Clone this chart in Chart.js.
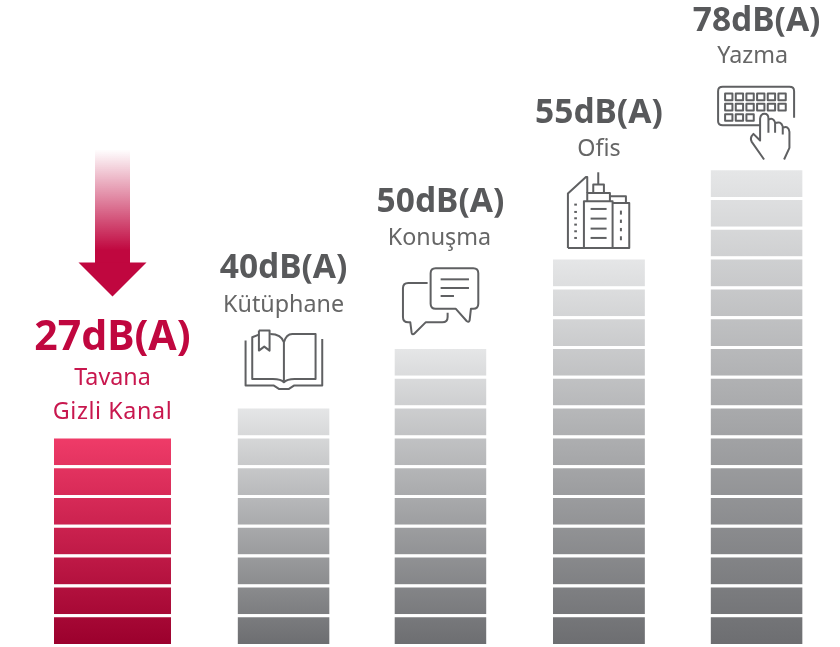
<!DOCTYPE html>
<html lang="tr">
<head>
    <meta charset="UTF-8">
    <title>Ses seviyeleri</title>
    <style>
        body { margin: 0; background: #fff; }
        #wrap { width: 840px; height: 647px; }
    </style>
    <script src="https://cdn.jsdelivr.net/npm/chart.js@4/dist/chart.umd.js"></script>
</head>
<body>
    <div id="wrap"><canvas id="chart" width="840" height="647"></canvas></div>
    <script>
        // values
        const categories = ['Tavana\nGizli Kanal', 'Kütüphane', 'Konuşma', 'Ofis', 'Yazma'];
        const decibels = ['27dB(A)', '40dB(A)', '50dB(A)', '55dB(A)', '78dB(A)'];
        const segmentCounts = [7, 8, 10, 13, 16];
        // bars are not evenly spaced in the picture
        const slots = [0, 1.085, 2.08, 3.085, 4.085];

        const RED = '#c0073f';
        const GREY = '#58595b';

        function barGradient(context, top, bottom) {
            const chart = context.chart;
            if (!chart.chartArea) return top;
            const bar = context.dataset.barIndex[context.dataIndex];
            const y = chart.scales.y;
            const g = chart.ctx.createLinearGradient(0, y.getPixelForValue(segmentCounts[bar]), 0, y.getPixelForValue(0));
            g.addColorStop(0, top);
            g.addColorStop(1, bottom);
            return g;
        }

        // one dataset per row of the stack, the red bar is wider so it gets its own rows
        function rowDataset(row, bars, thickness, top, bottom) {
            const used = bars.filter(b => row < segmentCounts[b]);
            if (!used.length) return null;
            return {
                data: used.map(b => ({ x: slots[b], y: 1 })),
                barIndex: used,
                barThickness: thickness,
                borderWidth: { top: 3, left: 0, right: 0, bottom: 0 },
                borderColor: '#fff',
                borderSkipped: false,
                inflateAmount: 0,
                backgroundColor: c => barGradient(c, top, bottom)
            };
        }

        const datasets = [];
        for (let row = 0; row < 16; row++) {
            const red = rowDataset(row, [0], 117, '#f03c69', '#9b002d');
            const grey = rowDataset(row, [1, 2, 3, 4], 92, '#e6e7e8', '#6d6e71');
            if (red) datasets.push(red);
            if (grey) datasets.push(grey);
        }

        // icons, drawn in 3x units with the origin offset from the bar centre and top
        function line(ctx, pts) {
            ctx.beginPath();
            pts.forEach((p, i) => i ? ctx.lineTo(p[0], p[1]) : ctx.moveTo(p[0], p[1]));
            ctx.stroke();
        }

        const icons = {
            1: { dx: -44, dy: -78, draw(ctx) {
                ctx.beginPath();
                ctx.moveTo(18, 30); ctx.lineTo(18, 165); ctx.lineTo(103, 165);
                ctx.lineTo(118, 175); ctx.lineTo(148, 175); ctx.lineTo(163, 165);
                ctx.lineTo(248, 165); ctx.lineTo(248, 25);
                ctx.stroke();
                ctx.beginPath();
                ctx.moveTo(58, 12); ctx.lineTo(38, 20); ctx.lineTo(38, 145); ctx.lineTo(100, 145);
                ctx.quadraticCurveTo(125, 145, 133, 155); ctx.lineTo(133, 35);
                ctx.quadraticCurveTo(125, 10, 92, 10);
                ctx.stroke();
                ctx.beginPath();
                ctx.moveTo(133, 155); ctx.quadraticCurveTo(142, 145, 165, 145); ctx.lineTo(228, 145);
                ctx.lineTo(228, 10); ctx.lineTo(158, 10); ctx.quadraticCurveTo(140, 10, 133, 35);
                ctx.stroke();
                line(ctx, [[58, 0], [58, 60], [74, 48], [90, 60], [90, 0], [58, 0]]);
            } },
            2: { dx: -45.5, dy: -88, draw(ctx) {
                ctx.beginPath();
                ctx.moveTo(122, 22); ctx.lineTo(235, 22); ctx.quadraticCurveTo(250, 22, 250, 37);
                ctx.lineTo(250, 128); ctx.quadraticCurveTo(250, 143, 235, 143); ctx.lineTo(228, 143);
                ctx.lineTo(224, 178); ctx.quadraticCurveTo(222, 186, 215, 180); ctx.lineTo(182, 143);
                ctx.lineTo(122, 143); ctx.quadraticCurveTo(107, 143, 107, 128); ctx.lineTo(107, 37);
                ctx.quadraticCurveTo(107, 22, 122, 22);
                ctx.stroke();
                line(ctx, [[137, 55], [222, 55]]);
                line(ctx, [[137, 81], [222, 81]]);
                line(ctx, [[137, 105], [177, 105]]);
                ctx.beginPath();
                ctx.moveTo(98, 66); ctx.lineTo(40, 66); ctx.quadraticCurveTo(24, 66, 24, 82);
                ctx.lineTo(24, 168); ctx.quadraticCurveTo(24, 184, 40, 184); ctx.lineTo(46, 184);
                ctx.lineTo(50, 215); ctx.quadraticCurveTo(52, 224, 60, 216); ctx.lineTo(92, 184);
                ctx.lineTo(142, 184); ctx.quadraticCurveTo(158, 184, 158, 168); ctx.lineTo(158, 155);
                ctx.stroke();
            } },
            3: { dx: -39, dy: -90, draw(ctx) {
                line(ctx, [[24, 235], [208, 235], [208, 100], [158, 100]]);
                line(ctx, [[24, 235], [24, 72], [78, 22], [82, 22], [82, 70]]);
                line(ctx, [[72, 235], [72, 95], [158, 95], [158, 235]]);
                line(ctx, [[82, 95], [82, 70], [150, 70], [150, 95]]);
                line(ctx, [[150, 80], [198, 80], [198, 100]]);
                line(ctx, [[100, 70], [100, 45], [132, 45], [132, 70]]);
                line(ctx, [[115, 45], [115, 8]]);
                [118, 147, 177, 205].forEach(y => line(ctx, [[92, y], [140, y]]));
                [105, 127, 146, 165, 185, 205].forEach(y => line(ctx, [[43, y], [51, y]]));
                [[123, 135], [150, 160], [175, 185], [200, 212]].forEach(s => line(ctx, [[183, s[0]], [183, s[1]]]));
            } },
            4: { dx: -46.5, dy: -89, draw(ctx) {
                ctx.beginPath();
                ctx.moveTo(252, 110); ctx.lineTo(252, 30); ctx.quadraticCurveTo(252, 17, 238, 17);
                ctx.lineTo(38, 17); ctx.quadraticCurveTo(24, 17, 24, 30); ctx.lineTo(24, 120);
                ctx.quadraticCurveTo(24, 132, 38, 132); ctx.lineTo(150, 132);
                ctx.stroke();
                for (let r = 0; r < 3; r++) {
                    for (let k = 0; k < (r === 2 ? 3 : 6); k++) {
                        ctx.strokeRect(45 + k * 32, 37 + r * 31, 22, 20);
                    }
                }
                ctx.beginPath();
                ctx.moveTo(162, 235); ctx.lineTo(125, 182); ctx.quadraticCurveTo(118, 170, 130, 158);
                ctx.lineTo(150, 178); ctx.lineTo(150, 112); ctx.quadraticCurveTo(152, 98, 163, 98);
                ctx.quadraticCurveTo(175, 98, 175, 112); ctx.lineTo(175, 155);
                ctx.stroke();
                ctx.beginPath();
                ctx.moveTo(175, 115); ctx.quadraticCurveTo(190, 108, 195, 124); ctx.lineTo(195, 155);
                ctx.moveTo(195, 126); ctx.quadraticCurveTo(212, 118, 218, 136); ctx.lineTo(218, 160);
                ctx.moveTo(218, 140); ctx.quadraticCurveTo(236, 132, 238, 152); ctx.lineTo(238, 200);
                ctx.lineTo(222, 235);
                ctx.stroke();
            } }
        };

        // y offsets above the bar top for each text line
        const headOffset = [88.5, 130.5, 137.5, 136.5, 139.5];
        const subOffset = [[53.5, 19.5], [96.5], [104.5], [103.5], [107.5]];
        const subShift = [0, 0, -1, 0, -4];

        const overlay = {
            id: 'overlay',
            afterDatasetsDraw(chart) {
                const ctx = chart.ctx;
                const xs = chart.scales.x;
                const ys = chart.scales.y;
                ctx.save();
                ctx.textAlign = 'center';
                ctx.textBaseline = 'alphabetic';
                categories.forEach((name, i) => {
                    const cx = xs.getPixelForValue(slots[i]);
                    const top = ys.getPixelForValue(segmentCounts[i]) + 3;
                    ctx.fillStyle = i === 0 ? RED : GREY;
                    ctx.font = 'bold ' + (i === 0 ? 41 : 33.5) + 'px "Noto Sans"';
                    ctx.fillText(decibels[i], cx, top - headOffset[i]);
                    ctx.fillStyle = i === 0 ? '#c8174e' : '#666';
                    ctx.font = '23.3px "Noto Sans"';
                    name.split('\n').forEach((t, k) => {
                        ctx.letterSpacing = t === 'Gizli Kanal' ? '0.6px' : '0px';
                        ctx.fillText(t, cx + subShift[i], top - subOffset[i][k]);
                    });
                    ctx.letterSpacing = '0px';

                    const icon = icons[i];
                    if (icon) {
                        ctx.save();
                        ctx.translate(cx + icon.dx, top + icon.dy);
                        ctx.scale(1 / 3, 1 / 3);
                        ctx.strokeStyle = '#5f6062';
                        ctx.lineWidth = 6;
                        ctx.lineJoin = 'round';
                        icon.draw(ctx);
                        ctx.restore();
                    }
                });

                // fading arrow above the red bar
                const ax = xs.getPixelForValue(slots[0]);
                const at = ys.getPixelForValue(segmentCounts[0]) + 3;
                const g = ctx.createLinearGradient(0, at - 289, 0, at - 188);
                g.addColorStop(0, 'rgba(192,7,63,0)');
                g.addColorStop(1, RED);
                ctx.fillStyle = g;
                ctx.fillRect(ax - 17.5, at - 289, 35, 115);
                ctx.fillStyle = RED;
                ctx.beginPath();
                ctx.moveTo(ax - 34, at - 176);
                ctx.lineTo(ax + 34, at - 176);
                ctx.lineTo(ax, at - 142);
                ctx.closePath();
                ctx.fill();
                ctx.restore();
            }
        };

        new Chart(document.getElementById('chart'), {
            type: 'bar',
            data: { datasets: datasets },
            plugins: [overlay],
            options: {
                responsive: false,
                animation: false,
                layout: { padding: { bottom: 3 } },
                plugins: { legend: { display: false }, tooltip: { enabled: false } },
                scales: {
                    x: { type: 'linear', stacked: true, display: false, offset: false, min: -0.7135, max: 4.614 },
                    y: { stacked: true, display: false, min: 0, max: 21.611 }
                }
            }
        });
    </script>
</body>
</html>
